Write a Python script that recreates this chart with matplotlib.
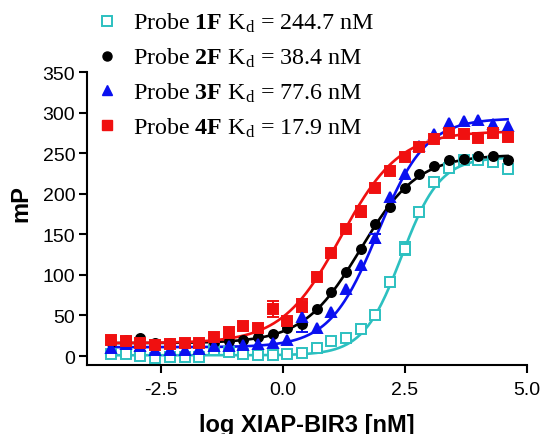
import numpy as np
from matplotlib import pyplot as plt
from matplotlib.lines import Line2D

# log10 of [XIAP-BIR3] in nM (two-fold dilution series from 40 uM)
log_conc = [-3.526, -3.225, -2.924, -2.623, -2.322, -2.021, -1.720, -1.419,
            -1.118, -0.817, -0.516, -0.215, 0.087, 0.388, 0.689, 0.990,
            1.291, 1.592, 1.893, 2.194, 2.495, 2.796, 3.097, 3.398,
            3.699, 4.000, 4.301, 4.602]

mp_1f = [2, 3, 0, -2.5, -1, -1, -1, 8, 5, 3, 1.5, 0.8, 2.5, 4,
         10, 18, 22, 33, 51, 91, 132, 178, 214, 232, 241, 242, 239, 231]
mp_2f = [17, 20, 22, 16, 16, 16, 16, 17, 18, 20, 23, 27, 35, 40,
         58, 79, 104, 132, 163, 184, 207, 224, 234, 241, 243, 246, 246, 241]
mp_3f = [10, 15, 12, 8, 8, 8, 9, 12, 12, 14, 15, 16, 20, 48,
         35, 54, 83, 112, 145, 196, 224, 259, 274, 287, 290, 291, 286, 283]
mp_4f = [20, 18, 16, 14, 15, 16, 16, 24, 28, 37, 35, 58, 43, 62,
         97, 127, 157, 178, 207, 228, 245, 258, 268, 275, 274, 269, 275, 270]

err_1f = [0] * 20 + [8] + [0] * 7
err_2f = [0, 4] + [0] * 26
err_3f = [0] * 13 + [18] + [0] * 4 + [6] + [0] * 9
err_4f = [0] * 8 + [8, 0, 0, 10, 0, 8, 0, 0, 0, 7] + [0] * 10

# four-parameter logistic fits: bottom, top, logEC50, hill slope
fit_1f = (1, 245, 2.43, 1.10)
fit_2f = (16, 248, 1.59, 0.74)
fit_3f = (11, 293, 1.94, 0.88)
fit_4f = (16, 277, 1.18, 0.72)

labels = [r'Probe $\mathbf{1F}$ K$_{\mathrm{d}}$ = 244.7 nM',
          r'Probe $\mathbf{2F}$ K$_{\mathrm{d}}$ = 38.4 nM',
          r'Probe $\mathbf{3F}$ K$_{\mathrm{d}}$ = 77.6 nM',
          r'Probe $\mathbf{4F}$ K$_{\mathrm{d}}$ = 17.9 nM']

plt.rcParams['font.family'] = 'Liberation Sans'
plt.rcParams['mathtext.fontset'] = 'custom'
plt.rcParams['mathtext.rm'] = 'Liberation Serif'
plt.rcParams['mathtext.bf'] = 'Liberation Serif:bold'
plt.rcParams['mathtext.it'] = 'Liberation Serif:italic'


def logistic(x, bottom, top, logec50, hill):
    return bottom + (top - bottom) / (1 + 10 ** ((logec50 - x) * hill))


def draw_series(ax, y, err, fit, color, marker, face):
    x = np.array(log_conc)
    y = np.array(y)
    err = np.array(err, dtype=float)
    xs = np.linspace(x.min(), x.max(), 300)
    ax.plot(xs, logistic(xs, *fit), color=color, lw=1.9, zorder=2)
    has_err = err > 0
    ax.errorbar(x[has_err], y[has_err], yerr=err[has_err], fmt='none',
                ecolor=color, elinewidth=1.4, capsize=4, capthick=1.4, zorder=3)
    ax.plot(x, y, linestyle='none', marker=marker, ms=6.5, color=color,
            mfc=face, mec=color, mew=1.4, zorder=4)


fig = plt.figure(figsize=(5.43, 4.35), dpi=100)
ax = fig.add_axes([87 / 543, 1 - 366 / 435, 440 / 543, 293 / 435])

cyan = '#2cc0c0'
draw_series(ax, mp_1f, err_1f, fit_1f, cyan, 's', 'white')
draw_series(ax, mp_2f, err_2f, fit_2f, 'black', 'o', 'black')
draw_series(ax, mp_3f, err_3f, fit_3f, '#0a10f0', '^', '#0a10f0')
draw_series(ax, mp_4f, err_4f, fit_4f, '#f01010', 's', '#f01010')

ax.set_xlim(-4.02, 5.0)
ax.set_ylim(-11, 350)
ax.set_xticks([-2.5, 0.0, 2.5, 5.0])
ax.set_xticklabels(['-2.5', '0.0', '2.5', '5.0'])
ax.set_yticks(range(0, 351, 50))
for side in ['top', 'right']:
    ax.spines[side].set_visible(False)
for side in ['left', 'bottom']:
    ax.spines[side].set_linewidth(1.5)
ax.tick_params(direction='out', length=5.5, width=1.5, labelsize=14, pad=3)
ax.tick_params(axis='x', pad=6)

ax.set_xlabel('log XIAP-BIR3 [nM]', fontsize=17, fontweight='bold')
ax.set_ylabel('mP', fontsize=17, fontweight='bold')
ax.xaxis.set_label_coords(0.5, -0.164)
ax.yaxis.set_label_coords(-0.125, 0.553)

handles = [
    Line2D([], [], ls='none', marker='s', ms=6.5, color=cyan, mfc='white', mew=1.4),
    Line2D([], [], ls='none', marker='o', ms=6.5, color='black'),
    Line2D([], [], ls='none', marker='^', ms=6.5, color='#0a10f0'),
    Line2D([], [], ls='none', marker='s', ms=6.5, color='#f01010'),
]
fig.legend(handles, labels, loc='center left', bbox_to_anchor=(95 / 543, 1 - 76 / 435),
           frameon=False, prop={'family': 'Liberation Serif', 'size': 17.3},
           handlelength=1.0, handletextpad=0.6, labelspacing=0.48,
           borderpad=0, borderaxespad=0)

fig.savefig('out.png', dpi=100)
